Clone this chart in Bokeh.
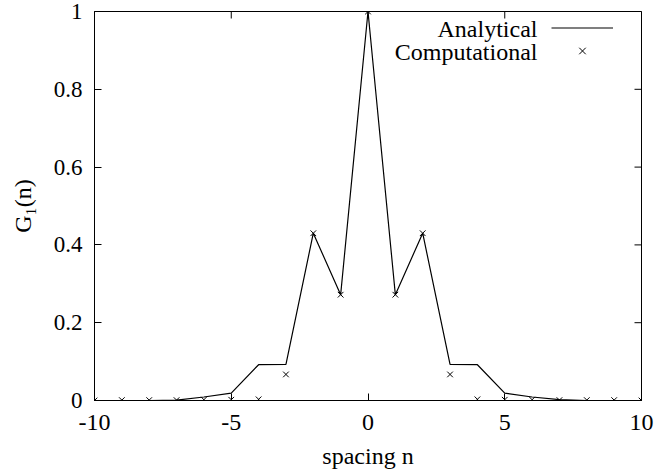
import math
from bokeh.plotting import figure
from bokeh.models import (Range1d, FixedTicker, Legend, LegendItem, Label)
from bokeh.embed import file_html
from bokeh.resources import INLINE

# ---- data ----
n = [-10, -9, -8, -7, -6, -5, -4, -3, -2, -1, 0, 1, 2, 3, 4, 5, 6, 7, 8, 9, 10]
analytical = [0.0, 0.0, 0.0, 0.001, 0.009, 0.019, 0.092, 0.093, 0.43, 0.272, 1.0,
              0.272, 0.43, 0.093, 0.092, 0.019, 0.009, 0.002, 0.0, 0.0, 0.0]
computational = [0.0, 0.001, 0.001, 0.001, 0.002, 0.002, 0.003, 0.067, 0.43, 0.272, 1.0,
                 0.272, 0.43, 0.067, 0.003, 0.002, 0.002, 0.001, 0.001, 0.001, 0.0]
xticks = [-10, -5, 0, 5, 10]
xtick_labels = ["-10", "-5", "0", "5", "10"]
yticks = [0, 0.2, 0.4, 0.6, 0.8, 1.0]
ytick_labels = ["0", "0.2", "0.4", "0.6", "0.8", "1"]
series_names = ["Analytical", "Computational"]
x_label = "spacing n"
y_label = "G\u2081(n)"

FONT = "Liberation Serif"
FS = "24px"
X0, X1, Y0, Y1 = -10, 10, 0, 1

p = figure(width=656, height=476, output_backend="svg", toolbar_location=None,
           x_range=Range1d(X0, X1), y_range=Range1d(Y0, Y1),
           min_border_left=94, min_border_right=15, min_border_top=11, min_border_bottom=76)
p.background_fill_color = "white"
p.border_fill_color = "white"
p.outline_line_color = "black"
p.outline_line_width = 1
p.xgrid.visible = False
p.ygrid.visible = False

def style_axis(ax):
    ax.axis_line_color = "black"
    ax.axis_line_width = 1
    ax.major_tick_in = 7
    ax.major_tick_out = 0
    ax.minor_tick_line_color = None
    ax.major_tick_line_color = "black"
    ax.major_label_text_font = FONT
    ax.major_label_text_font_size = FS
    ax.major_label_text_color = "black"
    ax.axis_label_text_font = FONT
    ax.axis_label_text_font_size = FS
    ax.axis_label_text_font_style = "normal"
    ax.axis_label_text_color = "black"

p.xaxis.ticker = FixedTicker(ticks=xticks)
p.xaxis.major_label_overrides = {t: l for t, l in zip(xticks, xtick_labels)}
p.yaxis.ticker = FixedTicker(ticks=yticks)
p.yaxis.major_label_overrides = {t: l for t, l in zip(yticks, ytick_labels)}
style_axis(p.xaxis[0])
style_axis(p.yaxis[0])
p.yaxis.major_label_text_font_size = "23px"
p.xaxis.axis_label = x_label
p.yaxis.axis_label = y_label
p.xaxis.major_label_standoff = 14
p.xaxis.axis_label_standoff = 10
p.yaxis.major_label_standoff = 12
p.yaxis.axis_label_standoff = 15

# mirrored ticks on top and right edges (clipped to the frame -> inward half)
p.scatter(x=xticks, y=[Y1] * len(xticks), marker="dash", angle=math.pi / 2,
          size=14, line_color="black", line_width=1)
p.scatter(x=[X1] * len(yticks), y=yticks, marker="dash",
          size=14, line_color="black", line_width=1)

r_line = p.line(n, analytical, line_color="black", line_width=1.2)
r_pts = p.scatter(n, computational, marker="x", size=8, line_color="black", line_width=1)

legend = Legend(items=[LegendItem(label=" ", renderers=[r_line]),
                       LegendItem(label=" ", renderers=[r_pts])],
                location=(457, 338), padding=0, margin=0, spacing=0,
                glyph_width=62, glyph_height=23, label_height=23, label_width=1,
                label_standoff=0, label_text_font_size="10px",
                border_line_alpha=0, background_fill_alpha=0)
p.add_layout(legend)

for i, name in enumerate(series_names):
    p.add_layout(Label(x=443, y=372 - 23 * i, x_units="screen", y_units="screen",
                       text=name, text_align="right", text_baseline="middle",
                       text_font=FONT, text_font_size=FS, text_color="black"))

open("out.html", "w").write(file_html(p, INLINE))
